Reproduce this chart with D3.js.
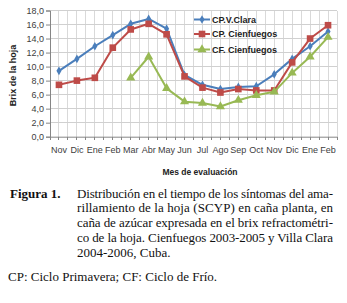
<!DOCTYPE html>
<html><head><meta charset="utf-8">
<script src="https://cdn.jsdelivr.net/npm/d3@7"></script>
<style>body{margin:0;background:#fff}svg{display:block}</style>
</head><body>
<script>
const months = ["Nov","Dic","Ene","Feb","Mar","Abr","May","Jun","Jul","Ago","Sep","Oct","Nov","Dic","Ene","Feb"];
const cpVClara = [9.4, 11.1, 12.9, 14.5, 16.1, 16.8, 15.4, 8.8, 7.4, 6.8, 7.1, 7.2, 8.9, 11.1, 12.9, 15.0];
const cpCienfuegos = [7.4, 8.0, 8.4, 12.7, 15.3, 16.1, 14.6, 8.6, 7.0, 6.3, 6.8, 6.6, 6.6, 10.6, 14.0, 15.9];
const cfCienfuegos = [null, null, null, null, 8.4, 11.4, 6.9, 5.0, 4.8, 4.3, 5.2, 5.9, 6.4, 9.1, 11.4, 14.2];
const seriesNames = ["CP.V.Clara", "CP. Cienfuegos", "CF. Cienfuegos"];
const yTicks = [0, 2, 4, 6, 8, 10, 12, 14, 16, 18];
const captionLabel = "Figura 1.";
const captionLines = [
  "Distribución en el tiempo de los síntomas del ama-",
  "rillamiento de la hoja (SCYP) en caña planta, en",
  "caña de azúcar expresada en el brix refractométri-",
  "co de la hoja. Cienfuegos 2003-2005 y Villa Clara",
  "2004-2006, Cuba."
];
const footnote = "CP: Ciclo Primavera; CF: Ciclo de Frío.";

const W = 347, H = 303;
const svg = d3.select("body").append("svg").attr("width", W).attr("height", H);
const L = 50, R = 337, T = 10.5, B = 136.7;
const x = d3.scaleBand().domain(d3.range(months.length)).range([L, R]);
const y = d3.scaleLinear().domain([0, 18]).range([B, T]);
const cx = i => x(i) + x.bandwidth() / 2;

const g = svg.append("g");
const vg = [];
for (let i = 0; i < months.length; i++) { vg.push(x(i)); vg.push(cx(i)); }
vg.push(R);
g.selectAll(".vg").data(vg).enter().append("line")
  .attr("x1", d => d).attr("x2", d => d).attr("y1", T).attr("y2", B)
  .attr("stroke", "#d9d9d9").attr("stroke-width", 1).attr("shape-rendering", "crispEdges");
g.selectAll(".hg").data(yTicks.slice(1)).enter().append("line")
  .attr("x1", L).attr("x2", R).attr("y1", d => y(d)).attr("y2", d => y(d))
  .attr("stroke", "#d0d0d0").attr("stroke-width", 1).attr("shape-rendering", "crispEdges");

const yAxis = d3.axisLeft(y).tickValues(yTicks).tickSize(4).tickFormat(d => d3.format(".1f")(d).replace(".", ","));
const ya = svg.append("g").attr("transform", `translate(${L},0)`).call(yAxis);
ya.select(".domain").attr("stroke", "#868686");
ya.selectAll(".tick line").attr("stroke", "#868686");
ya.selectAll("text").attr("font-family", "Liberation Sans, Arial, sans-serif").attr("font-size", 9).attr("fill", "#404040").attr("x", -6);

const xa = svg.append("g").attr("transform", `translate(0,${B})`).call(d3.axisBottom(x).tickSize(0).tickFormat(i => months[i]));
xa.select(".domain").attr("stroke", "#868686");
xa.selectAll("text").attr("font-family", "Liberation Sans, Arial, sans-serif").attr("font-size", 9).attr("fill", "#404040").attr("dy", "1.45em");
svg.append("g").selectAll("line").data(vg).enter().append("line")
  .attr("x1", d => d).attr("x2", d => d).attr("y1", B).attr("y2", B + 3)
  .attr("stroke", "#868686").attr("shape-rendering", "crispEdges");

svg.append("text").attr("transform", `translate(16,${(T + B) / 2 + 2}) rotate(-90)`)
  .attr("text-anchor", "middle").attr("font-family", "Liberation Sans, Arial, sans-serif")
  .attr("font-size", 9).attr("font-weight", "bold").attr("fill", "#222").text("Brix de la hoja");
svg.append("text").attr("x", 200).attr("y", 175).attr("text-anchor", "middle")
  .attr("font-family", "Liberation Sans, Arial, sans-serif")
  .attr("font-size", 8.5).attr("font-weight", "bold").attr("fill", "#222").text("Mes de evaluación");

const colors = ["#4a7ebb", "#be4b48", "#98b954"];
const data = [cpVClara, cpCienfuegos, cfCienfuegos];
const symbols = [d3.symbolDiamond, d3.symbolSquare, d3.symbolTriangle];
const sizes = [22, 44, 36];

const line = d3.line().defined(d => d != null).x((d, i) => cx(i)).y(d => y(d));
data.forEach((s, k) => {
  svg.append("path").datum(s).attr("d", line).attr("fill", "none")
    .attr("stroke", colors[k]).attr("stroke-width", 2).attr("stroke-linejoin", "round");
  svg.append("g").selectAll("path").data(s.map((v, i) => ({ v, i })).filter(d => d.v != null))
    .enter().append("path")
    .attr("d", d3.symbol().type(symbols[k]).size(sizes[k]))
    .attr("transform", d => `translate(${cx(d.i)},${y(d.v)})`)
    .attr("fill", colors[k]);
});

const leg = svg.append("g");
[19.5, 34, 49.5].forEach((ly, k) => {
  leg.append("line").attr("x1", 194).attr("x2", 210).attr("y1", ly).attr("y2", ly)
    .attr("stroke", colors[k]).attr("stroke-width", 2);
  leg.append("path").attr("d", d3.symbol().type(symbols[k]).size(sizes[k]))
    .attr("transform", `translate(202,${ly})`).attr("fill", colors[k]);
  leg.append("text").attr("x", 212).attr("y", ly + 3.2)
    .attr("font-family", "Liberation Sans, Arial, sans-serif").attr("font-size", 9)
    .attr("font-weight", "bold").attr("fill", "#222").text(seriesNames[k]);
});

const serif = "Liberation Serif, Times New Roman, serif";
svg.append("text").attr("x", 10).attr("y", 197.5).attr("font-family", serif)
  .attr("font-size", 13).attr("font-weight", "bold").attr("fill", "#111").text(captionLabel);
captionLines.forEach((t, i) => {
  const tx = svg.append("text").attr("x", 77).attr("y", 197.5 + i * 14.9)
    .attr("font-family", serif).attr("font-size", 13).attr("fill", "#111").text(t);
  if (i < captionLines.length - 1) tx.attr("textLength", 256).attr("lengthAdjust", "spacing");
});
svg.append("text").attr("x", 8).attr("y", 281).attr("font-family", serif)
  .attr("font-size", 13).attr("fill", "#111").text(footnote);
</script>
</body></html>
